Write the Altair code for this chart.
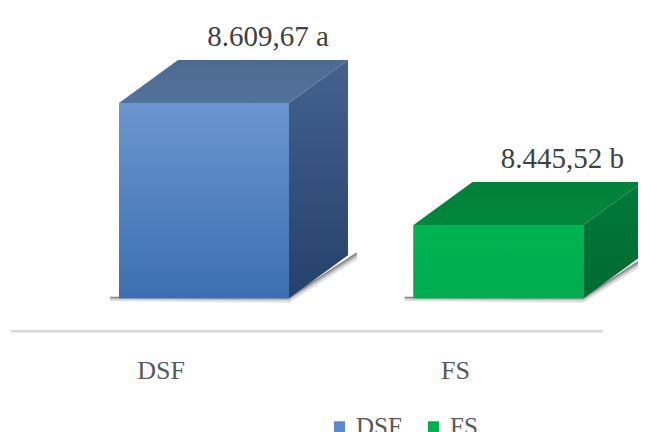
import altair as alt
import pandas as pd

# ---- data ----
categories = ["DSF", "FS"]
values = [8609.67, 8445.52]
value_labels = ["8.609,67 a", "8.445,52 b"]

# ---- layout / style constants ----
BASE = 8347.0                 # value at which the bars start (truncated axis)
Y_DOMAIN = [8159.0, 8737.5]
X_DOMAIN = [-0.6655, 1.4737]
HALF = 0.2886                 # half width of bar front (category units)
DX = 0.2003                   # 3D depth, x (category units)
DY = 57.9                     # 3D depth, y (value units)
SH = 6.0                      # shadow thickness (value units)
SHX = 0.03                    # shadow spread (category units)
FLOOR = BASE - 44.4           # floor line
CAT_Y = BASE - 108.7          # category label baseline
FONT = "Liberation Serif"

front_grad = {
    "DSF": ["#6b95cf", "#3c6fb2"],
    "FS": ["#00b452", "#00ac4d"],
}
top_grad = {
    "DSF": ["#4d6a92", "#53729c"],
    "FS": ["#00803a", "#00883e"],
}
side_grad = {
    "DSF": ["#43628e", "#24416b"],
    "FS": ["#007a38", "#006a30"],
}
legend_colors = ["#5a89cf", "#00b050"]

xs = alt.Scale(domain=X_DOMAIN, nice=False, zero=False)
ys = alt.Scale(domain=Y_DOMAIN, nice=False, zero=False)


def grad(c):
    return alt.Gradient(
        gradient="linear",
        stops=[alt.GradientStop(color=c[0], offset=0), alt.GradientStop(color=c[1], offset=1)],
        x1=0, x2=0, y1=0, y2=1,
    )


front = pd.DataFrame({
    "cat": categories,
    "v": values,
    "base": [BASE] * len(values),
    "xa": [i - HALF for i in range(len(values))],
    "xb": [i + HALF for i in range(len(values))],
    "xc": list(range(len(values))),
    "label": value_labels,
})

top_rows, side_rows, shadow_rows = [], [], []
for i, (c, v) in enumerate(zip(categories, values)):
    top_rows.append({"cat": c, "y": v, "xa": i - HALF, "xb": i + HALF})
    top_rows.append({"cat": c, "y": v + DY, "xa": i - HALF + DX, "xb": i + HALF + DX})
    side_rows.append({"cat": c, "x": i + HALF, "ya": BASE, "yb": v})
    side_rows.append({"cat": c, "x": i + HALF + DX, "ya": BASE + DY, "yb": v + DY})
    shadow_rows.append({"cat": c, "x": i - HALF - SHX, "ya": BASE - SH * 0.6, "yb": BASE + 2})
    shadow_rows.append({"cat": c, "x": i + HALF, "ya": BASE - SH, "yb": BASE + 2})
    shadow_rows.append({"cat": c, "x": i + HALF + DX + SHX, "ya": BASE + DY - SH, "yb": BASE + DY + 4})
top = pd.DataFrame(top_rows)
side = pd.DataFrame(side_rows)
shadow = pd.DataFrame(shadow_rows)

layers = []

# floor line
floor = pd.DataFrame({"x1": [X_DOMAIN[0] + 0.0103], "x2": [len(categories) - 1 + 0.355], "y": [FLOOR]})
layers.append(
    alt.Chart(floor).mark_rule(color="#dadada", strokeWidth=2.5).encode(
        x=alt.X("x1:Q", scale=xs, axis=None), x2="x2:Q", y=alt.Y("y:Q", scale=ys, axis=None)
    )
)

# soft shadows
for k, op in [(1.0, 0.12), (0.6, 0.18), (0.3, 0.25)]:
    sh = shadow.copy()
    sh["ya"] = sh["yb"] - (sh["yb"] - sh["ya"]) * k
    layers.append(
        alt.Chart(sh).mark_area(orient="vertical", color="#000000", opacity=op).encode(
            x=alt.X("x:Q", scale=xs, axis=None),
            y=alt.Y("ya:Q", scale=ys, axis=None), y2="yb:Q",
            detail="cat:N",
        )
    )

# front faces with legend
layers.append(
    alt.Chart(front).mark_bar().encode(
        x=alt.X("xa:Q", scale=xs, axis=None),
        x2="xb:Q",
        y=alt.Y("v:Q", scale=ys, axis=None),
        y2="base:Q",
        color=alt.Color(
            "cat:N",
            scale=alt.Scale(domain=categories, range=legend_colors),
            legend=alt.Legend(
                orient="none", legendX=319, legendY=406, direction="horizontal", title=None,
                symbolType="square", symbolSize=121, symbolStrokeWidth=0, symbolOpacity=1,
                labelFont=FONT, labelFontSize=25, labelColor="#595959",
                columnPadding=19, padding=0, labelOffset=4,
            ),
        ),
    )
)

for c in categories:
    layers.append(
        alt.Chart(front).transform_filter(alt.datum.cat == c).mark_bar(color=grad(front_grad[c])).encode(
            x=alt.X("xa:Q", scale=xs, axis=None), x2="xb:Q",
            y=alt.Y("v:Q", scale=ys, axis=None), y2="base:Q",
        )
    )
    layers.append(
        alt.Chart(top).transform_filter(alt.datum.cat == c).mark_area(orient="horizontal", color=grad(top_grad[c])).encode(
            y=alt.Y("y:Q", scale=ys, axis=None),
            x=alt.X("xa:Q", scale=xs, axis=None), x2="xb:Q",
        )
    )
    layers.append(
        alt.Chart(side).transform_filter(alt.datum.cat == c).mark_area(orient="vertical", color=grad(side_grad[c])).encode(
            x=alt.X("x:Q", scale=xs, axis=None),
            y=alt.Y("ya:Q", scale=ys, axis=None), y2="yb:Q",
        )
    )

# value labels
layers.append(
    alt.Chart(front).mark_text(font=FONT, fontSize=29, color="#404040", baseline="alphabetic", dx=64, dy=-57).encode(
        x=alt.X("xc:Q", scale=xs, axis=None), y=alt.Y("v:Q", scale=ys, axis=None), text="label:N"
    )
)

# category labels
cats = pd.DataFrame({"cat": categories, "xc": list(range(len(categories))), "y": [CAT_Y] * len(categories)})
layers.append(
    alt.Chart(cats).mark_text(font=FONT, fontSize=26, color="#595959", baseline="alphabetic", dx=-43).encode(
        x=alt.X("xc:Q", scale=xs, axis=None), y=alt.Y("y:Q", scale=ys, axis=None), text="cat:N"
    )
)

chart = alt.layer(*layers).properties(
    width=630, height=430, autosize=alt.AutoSizeParams(type="none"), padding=0
).configure_view(stroke=None)

chart.save("out.html", embed_options={"renderer": "svg", "actions": False})
